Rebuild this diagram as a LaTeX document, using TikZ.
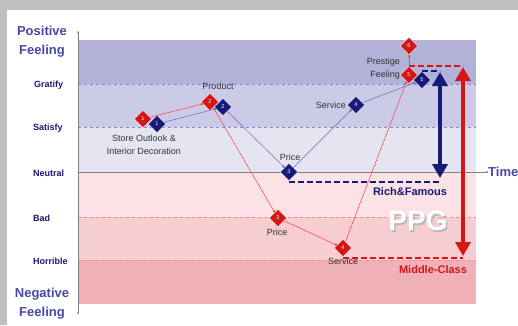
\documentclass[tikz,border=0pt]{standalone}
\usepackage{fontspec}
\setmainfont{Liberation Sans}
\usepackage{tikz}
\usetikzlibrary{positioning}
\usetikzlibrary{shapes.geometric}
\usetikzlibrary{arrows.meta}
\usepackage{xcolor}

\definecolor{frame}{RGB}{192,192,192}
\definecolor{navy}{RGB}{25,25,120}
\definecolor{axisblue}{RGB}{72,72,165}
\definecolor{dred}{RGB}{212,22,22}
\definecolor{bandA}{RGB}{178,178,217}
\definecolor{bandB}{RGB}{203,203,231}
\definecolor{bandC}{RGB}{229,229,242}
\definecolor{bandD}{RGB}{251,226,229}
\definecolor{bandE}{RGB}{246,205,209}
\definecolor{bandF}{RGB}{239,177,183}

\begin{document}
\begin{tikzpicture}[x=1pt,y=-1pt,
  dia/.style={diamond, minimum size=17.5pt, inner sep=0pt, draw=white, line width=0.4pt, text=white, font=\fontsize{5.5}{6}\selectfont},
  reddia/.style={dia, fill=dred},
  bluedia/.style={dia, fill=navy},
  redline/.style={draw=red!75!white, line width=0.5pt, -{Circle[length=2.5pt]}},
  blueline/.style={draw=navy!65!white, line width=0.5pt, -{Circle[length=2.5pt]}},
  level/.style={right, inner sep=0pt, text=navy, font=\bfseries\fontsize{9}{10}\selectfont},
  feeling/.style={align=center, text=axisblue, font=\bfseries\fontsize{13}{19}\selectfont},
  lab/.style={text=black!80, inner sep=1pt, font=\fontsize{9}{13}\selectfont},
  reddash/.style={dred, line width=2.3pt, dash pattern=on 5.5pt off 3.5pt},
  bluedash/.style={navy, line width=2.3pt, dash pattern=on 5.5pt off 3.5pt},
  bigarrow/.style={{Triangle[width=15pt,length=14pt]}-{Triangle[width=15pt,length=14pt]}},
  ppgtext/.style={font=\bfseries\fontsize{28}{30}\selectfont}
]

\useasboundingbox (0,0) rectangle (518,325);
\fill[frame] (0,0) rectangle (518,325);
\fill[white] (7,10) rectangle (518,325);

% bands
{
\fill[bandA] (78,40) rectangle (476,84);
\fill[bandB] (78,84) rectangle (476,127);
\fill[bandC] (78,127) rectangle (476,172);
\fill[bandD] (78,172) rectangle (476,217);
\fill[bandE] (78,217) rectangle (476,260);
\fill[bandF] (78,260) rectangle (476,304);

\draw[blue!35!gray!70!white, dashed, thin] (78,84)--++(398,0);
\draw[blue!35!gray!70!white, dashed, thin] (78,127)--++(398,0);
\draw[red!45!white, dashed, thin] (78,217)--++(398,0);
\draw[red!45!white, dashed, thin] (78,260)--++(398,0);
}

% axes
{
\node[right, inner sep=0pt, text=axisblue, font=\bfseries\fontsize{13}{14}\selectfont] (time) at (488,172) {Time};

\draw[gray, thin] (78,32)--(78,313);
\fill[gray] (78,32) circle [radius=1];
\fill[gray] (78,313) circle [radius=1];
\draw[gray, thin, -{Circle[length=2pt]}] (78,172)--(time.west);
}

% level names
{
\node[feeling] (positive) at (42,41.5) {Positive\\Feeling};
\node[level] (gratify) at (34,85) {Gratify};
\node[level] (satisfy) at (33,128) {Satisfy};
\node[level] (neutral) at (33,173) {Neutral};
\node[level] (bad) at (33,218) {Bad};
\node[level] (horrible) at (33,261) {Horrible};
\node[feeling] (negative) at (42,303.5) {Negative\\Feeling};
}

% diamonds
{
\node[reddia] (r1) at (143,119) {1};
\node[reddia] (r2) at (210,102) {2};
\node[reddia] (r3) at (278,218) {3};
\node[reddia] (r4) at (343,248) {4};
\node[reddia] (r5) at (409,75) {5};
\node[reddia] (r6) at (409,46) {6};

\node[bluedia] (b1) at (157,124) {1};
\node[bluedia] (b2) at (223,107) {2};
\node[bluedia] (b3) at (289,172) {3};
\node[bluedia] (b4) at (356,105) {4};
\node[bluedia] (b5) at (422,80) {5};
}

% thin lines
{
\draw[redline] (r1)--(r2);
\draw[redline] (r2)--(r3);
\draw[redline] (r3)--(r4);
\draw[redline] (r4)--(r5);
\draw[redline] (r5)--(r6);

\draw[blueline] (b1)--(b2);
\draw[blueline] (b2)--(b3);
\draw[blueline] (b3)--(b4);
\draw[blueline] (b4)--(b5);
}

% nodes
{
\node[lab, align=center] (store) at (144,145) {Store Outlook \&\\Interior Decoration};
\node[lab] (product) at (218,86) {Product};
\node[lab] (bprice) at (290,157) {Price};
\node[lab, left=0pt of b4] (bservice) {Service};
\node[lab] (rprice) at (277,232) {Price};
\node[lab, below=0pt of r4] (rservice) {Service};
\node[lab, align=right, anchor=east] (prestige) at (401,69) {Prestige\\Feeling};
}

% gaps
{
\coordinate (bluetop) at (440,72);
\coordinate (bluebot) at (440,178);
\coordinate (redtop) at (463,67);
\coordinate (redbot) at (463,256);

\draw[bluedash] (b5.north)--(b5.north -| bluetop);
\draw[bluedash] ([yshift=-1pt]b3.south)--([yshift=-1pt]b3.south -| bluebot);
\draw[reddash] (r5.north)--(r5.north -| redtop);
\draw[reddash] ([yshift=-1pt]r4.south)--([yshift=-1pt]r4.south -| redbot);

\draw[bigarrow, navy, line width=3.5pt] (bluetop)--(bluebot);
\draw[bigarrow, dred, line width=4pt] (redtop)--(redbot);

\node[text=navy, font=\bfseries\fontsize{11}{12}\selectfont] (rich) at (410,192) {Rich\&Famous};
\node[text=dred, font=\bfseries\fontsize{11}{12}\selectfont] (middle) at (433,270) {Middle-Class};
\node[ppgtext, text=gray!55] (ppgshadow) at (419.5,222.5) {PPG};
\node[ppgtext, text=white] (ppg) at (418,221) {PPG};
}

\end{tikzpicture}
\end{document}
